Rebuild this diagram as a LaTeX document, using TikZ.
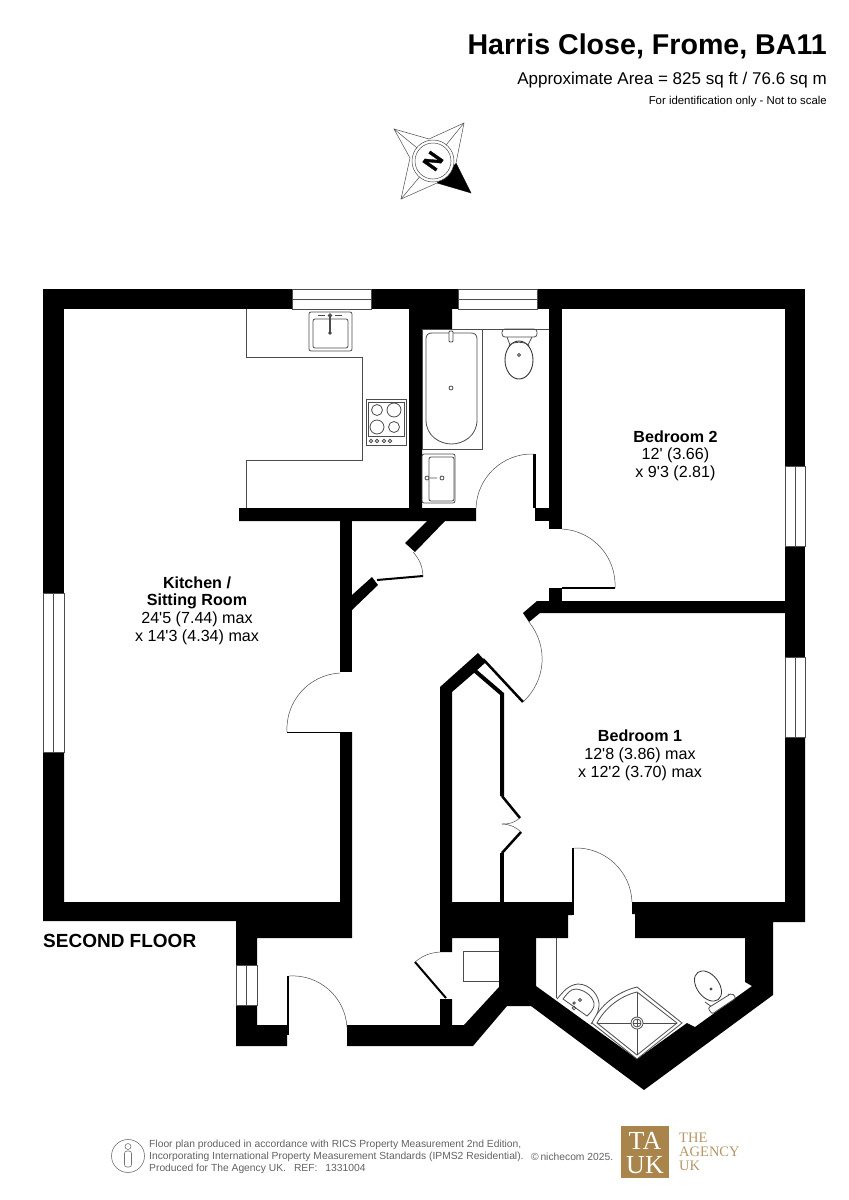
\documentclass[tikz,border=0pt]{standalone}
\usepackage{fontspec}
\setmainfont[Ligatures=TeXOff]{Liberation Sans}
\newfontfamily\logofont{Liberation Serif}
\newfontfamily\compassfont[FakeBold=1.5]{Liberation Sans Bold}
\definecolor{agency}{HTML}{A9854B}
\definecolor{fitting}{gray}{0.3}
\tikzset{
  wall/.style={fill=black,draw=none},
  windowbox/.style={draw=fitting,line width=0.6pt,fill=white},
  fitting/.style={draw=fitting,line width=0.8pt},
  swing/.style={draw=fitting,line width=0.5pt},
  leaf/.style={draw=black,line width=2pt},
  partition/.style={draw=black,line width=4pt,miter limit=10},
  roomname/.style={font=\fontsize{16.1}{18}\selectfont\bfseries,inner sep=0pt},
  roomsize/.style={font=\fontsize{16.1}{18}\selectfont,inner sep=0pt},
  smallprint/.style={font=\fontsize{10.3}{12}\selectfont,text=black!62,inner sep=0pt,anchor=west},
  logotext/.style={font=\logofont\fontsize{14.5}{14}\selectfont,text=agency!85,anchor=west,inner sep=0pt},
  logomark/.style={font=\logofont\fontsize{26}{26}\selectfont,text=white,inner sep=0pt},
}
\begin{document}
\begin{tikzpicture}[x=1pt,y=-1pt]
\useasboundingbox (0,0) rectangle (849,1200);

% heading
\node[font=\fontsize{28.6}{30}\selectfont\bfseries,anchor=east,inner sep=0pt] (title) at (827,46) {Harris Close, Frome, BA11};
\node[font=\fontsize{17}{18}\selectfont,anchor=east,inner sep=0pt] (area) at (827,80) {Approximate Area = 825 sq ft / 76.6 sq m};
\node[font=\fontsize{11.4}{12}\selectfont,anchor=east,inner sep=0pt] (scale) at (827,102) {For identification only - Not to scale};

% compass
\draw[fitting,line width=0.5pt] (394,129) -- (429,139) -- (464,123) -- (456,163) -- (471,193) -- (437,183) -- (401,199) -- (410,158) -- cycle;
\draw[fitting,line width=0.5pt] (394,129) -- (433,161) (464,123) -- (433,161) (401,199) -- (433,161);
\fill[black] (456,163) -- (471,193) -- (437,183) -- cycle;
\draw[fitting,line width=0.5pt,fill=white] (433,161) circle (21);
\draw[fitting,line width=0.5pt] (433,161) circle (18);
\node[font=\compassfont\fontsize{23}{23}\selectfont,rotate=55,inner sep=0pt] (north) at (433,161) {N};

% outer walls
\fill[wall] (43,289) rectangle (292,309);
\fill[wall] (371,289) rectangle (458,309);
\fill[wall] (537,289) rectangle (805,309);
\fill[wall] (43,289) rectangle (64,593);
\fill[wall] (785,289) rectangle (805,466);
\fill[wall] (785,546) rectangle (805,657);
\fill[wall] (43,752) -- (64,752) -- (64,902) -- (340,902) -- (340,732) -- (352,732) -- (352,938) -- (257,938) -- (257,965) -- (236,965) -- (236,921) -- (43,921) -- cycle;
\fill[wall] (236,1005) -- (257,1005) -- (257,1025) -- (287,1025) -- (287,1046) -- (236,1046) -- cycle;
\fill[wall] (347,1025) -- (440,1025) -- (440,999) -- (452,999) -- (452,1025) -- (464,1025) -- (499,987) -- (499,938) -- (452,938) -- (452,952) -- (440,952) -- (440,902) -- (572,902) -- (572,915) -- (568,915) -- (568,938) -- (536,938) -- (536,986) -- (637,1059) -- (687,1023) -- (695,1027) -- (752,986) -- (745,982) -- (745,938) -- (635,938) -- (635,914) -- (632,914) -- (632,902) -- (785,902) -- (785,737) -- (805,737) -- (805,922) -- (773,922) -- (773,995) -- (644,1090) -- (531,1006) -- (507,1006) -- (473,1046) -- (347,1046) -- cycle;

% inner walls
\fill[wall] (409,309) -- (452,309) -- (452,329) -- (422,329) -- (422,508) -- (476,508) -- (476,521) -- (239,521) -- (239,508) -- (409,508) -- cycle;
\fill[wall] (549,309) rectangle (562,529);
\fill[wall] (535,508) rectangle (549,521);
\fill[wall] (340,521) rectangle (352,672);
\fill[wall] (427,521) -- (445,521) -- (415,552) -- (405,543) -- cycle;
\fill[wall] (352,595) -- (372,577) -- (378,585) -- (352,610) -- cycle;
\fill[wall] (549,588) rectangle (562,601);
\fill[wall] (537,601) -- (785,601) -- (785,613) -- (540,613) -- (529,622) -- (523,613) -- cycle;
\fill[wall] (440,687) -- (478,653) -- (486,662) -- (475,672) -- (452,692) -- (452,902) -- (440,902) -- cycle;
\draw[partition] (474,670) -- (502,694) -- (502,796);
\draw[partition] (502,853) -- (502,902);

% windows
\draw[windowbox] (292,289) rectangle (371,309) (292,299) -- (371,299);
\draw[windowbox] (458,289) rectangle (537,309) (458,299) -- (537,299);
\draw[windowbox] (43,593) rectangle (64,752) (53,593) -- (53,752);
\draw[windowbox] (785,466) rectangle (805,546) (795,466) -- (795,546);
\draw[windowbox] (785,657) rectangle (805,737) (795,657) -- (795,737);
\draw[windowbox] (236,965) rectangle (257,1005) (246,965) -- (246,1005);

% doors
\draw[leaf,line width=1pt] (340,732) -- (287,732);
\draw[swing] (340,673) to[bend right=45] (287,732);
\draw[leaf,line width=2.5pt] (534.5,454) -- (534.5,508);
\draw[swing] (534,454) to[bend right=45] (476,508);
\draw[leaf] (377,580) -- (423,576);
\draw[swing] (413,552) to[bend left=19] (423,576);
\draw[leaf] (562,588) -- (615,588);
\draw[swing] (562,529) to[bend left=45] (615,588);
\draw[leaf,line width=2.5pt] (483,659) -- (523,702);
\draw[swing] (529,622) to[bend left=43] (523,702);
\draw[leaf] (573,848) -- (573,915);
\draw[swing] (574,848) to[bend left=45] (632,902);
\draw[leaf] (288,976) -- (288,1035);
\draw[swing] (289,976) to[bend left=45] (347,1027);
\draw[leaf] (446,998) -- (415,962);
\draw[swing] (415,962) to[bend left=17] (440,952);
\draw[leaf,line width=2.5pt] (502,796) -- (520,818);
\draw[swing] (520,818) to[bend left=20] (502,824);
\draw[leaf,line width=2.5pt] (502,853) -- (521,832);
\draw[swing] (521,832) to[bend right=20] (502,824);

% kitchen units
\draw[fitting] (246,309) -- (246,357) -- (362,357) -- (362,460) -- (246,460) -- (246,508);
\draw[fitting,rounded corners=2pt] (309,312) rectangle (352,351);
\draw[fitting,rounded corners=2pt] (313,319) rectangle (348,348);
\draw[fitting,line width=1.2pt] (330,315) -- (330,333);
\draw[fitting] (330,315.5) circle (1.8);
\fill[fitting] (330,333) circle (1.3);
\draw[fitting] (318,315.5) -- (325,315.5) (335,315.5) -- (342,315.5);
\draw[fitting] (366,399) rectangle (406,445);
\draw[fitting] (368,402) rectangle (404,436);
\draw[fitting] (377,410) circle (5.5) (394,410) circle (7) (377,427) circle (7) (394,427) circle (5.5);
\foreach \knob in {371,377,384,390}
  \draw[fitting] (\knob,441) circle (1.7);

% bathroom
\draw[fitting] (452,329) -- (549,329);
\draw[fitting] (422,329) rectangle (482,449);
\draw[fitting] (432,333) -- (471,333) .. controls (475,333) and (477,335) .. (477,339) -- (477,420) .. controls (477,436) and (463,444) .. (451.5,444) .. controls (440,444) and (426,436) .. (426,420) -- (426,339) .. controls (426,335) and (428,333) .. (432,333) -- cycle;
\draw[fitting,fill=white,rounded corners=1pt] (449,331) rectangle (453,342);
\draw[fitting] (451,388) circle (2);
\draw[fitting,rounded corners=2pt] (422,454) rectangle (455,503);
\draw[fitting,rounded corners=2pt] (429,457) rectangle (454,501);
\draw[fitting] (427,478) circle (2) (442,478) circle (2) (430,478) -- (437,478);
\draw[fitting,rounded corners=3pt] (502,329) rectangle (537,337);
\draw[fitting] (507,337) -- (510,345) (532,337) -- (528,345);
\draw[draw=black!80,line width=0.9pt,fill=white] (519,360) ellipse (14 and 19);
\draw[fitting] (509,346) .. controls (512,341) and (526,341) .. (529,346);
\draw[fitting] (519,355) circle (1.5);

% store
\draw[fitting] (499,951) -- (463,951) -- (463,981) -- (499,981);

% en suite
\draw[fitting] (556,938) -- (556,998);
\draw[fitting] (557,999) .. controls (563,992) and (568,985) .. (578,984) .. controls (590,984) and (600,996) .. (599,1006) .. controls (598,1014) and (595,1019) .. (591,1024);
\draw[fitting] (563,999) .. controls (567,994) and (570,989) .. (576,989) .. controls (586,990) and (595,998) .. (594,1006) .. controls (593,1010) and (590,1013) .. (587,1016) -- cycle;
\draw[fitting] (580,1000) circle (1.5) (574,1008) circle (1.8) (574,1003) circle (1.2);
\draw[fitting,fill=white] (637,987) -- (682,1023) -- (637,1059) -- (592,1023) .. controls (600,1005) and (617,992) .. (637,987) -- cycle;
\draw[fitting] (637,992) -- (677,1023) -- (637,1055) -- (597,1023) .. controls (605,1008) and (620,996) .. (637,992) -- cycle;
\draw[fitting] (637,992) -- (637,1055) (597,1023) -- (677,1023);
\draw[fitting,fill=white] (637,1023) circle (6);
\draw[fitting] (637,1023) circle (4);
\draw[fitting] (633,1023) -- (641,1023) (637,1019) -- (637,1027);
\draw[draw=black!80,line width=0.8pt,rotate around={37:(708,986)}] (708,986) ellipse (11 and 17);
\draw[fitting] (705,1002) -- (712,1007) (728,994) -- (732,997);
\draw[fitting,rounded corners=2pt,fill=white] (708,1008) -- (732,993) -- (736,998) -- (712,1014) -- cycle;
\draw[fitting] (711,989) circle (1);

% room labels
\node[roomname] (kitchen) at (197,583) {Kitchen /};
\node[roomname] (sitting) at (197,601) {Sitting Room};
\node[roomsize] (kitchenlen) at (197,619) {24'5 (7.44) max};
\node[roomsize] (kitchenwid) at (197,637) {x 14'3 (4.34) max};
\node[roomname] (bedtwo) at (675.5,437) {Bedroom 2};
\node[roomsize] (bedtwolen) at (675.5,455) {12' (3.66)};
\node[roomsize] (bedtwowid) at (675.5,473) {x 9'3 (2.81)};
\node[roomname] (bedone) at (640,736) {Bedroom 1};
\node[roomsize] (bedonelen) at (640,755) {12'8 (3.86) max};
\node[roomsize] (bedonewid) at (640,773) {x 12'2 (3.70) max};
\node[font=\fontsize{19}{20}\selectfont\bfseries,anchor=west,inner sep=0pt] (floor) at (43,941) {SECOND FLOOR};

% footer
\draw[draw=black!55,line width=0.6pt] (128,1156) circle (16.5);
\draw[draw=black!55,line width=0.6pt] (128,1146.5) circle (3);
\draw[draw=black!55,line width=0.6pt,rounded corners=2.5pt] (124.5,1151) rectangle (131.5,1167);
\node[smallprint] (rics) at (149,1145) {Floor plan produced in accordance with RICS Property Measurement 2nd Edition,};
\node[smallprint] (ipms) at (149,1157) {Incorporating International Property Measurement Standards (IPMS2 Residential).};
\node[smallprint] (ref) at (149,1169) {Produced for The Agency UK.\hspace{8pt}REF:\hspace{8pt}1331004};
\node[smallprint] (niche) at (531,1157) {\copyright\,nichecom 2025.};
\fill[agency] (621,1126) rectangle (669,1178);
\node[logomark] (logota) at (645,1141) {TA};
\node[logomark] (logouk) at (645,1165) {UK};
\node[logotext] (logothe) at (679,1138) {THE};
\node[logotext] (logoagency) at (679,1152) {AGENCY};
\node[logotext] (logouktwo) at (679,1166) {UK};
\end{tikzpicture}
\end{document}
